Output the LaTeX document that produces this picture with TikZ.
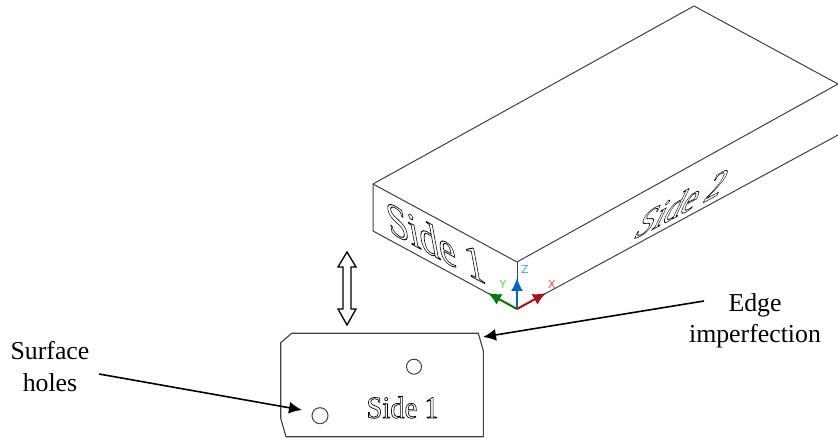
\documentclass[tikz,border=0pt]{standalone}
\usepackage{fontspec}
\setmainfont{Liberation Serif}
\newfontfamily\ucsfont{DejaVu Sans}
\usetikzlibrary{arrows.meta}
\definecolor{edgegray}{gray}{0.25}
\definecolor{ucsgreen}{RGB}{0,125,0}
\definecolor{ucsblue}{RGB}{0,100,200}
\definecolor{ucsred}{RGB}{165,20,20}
\newcommand\outlinetext[2]{\special{pdf:code 1 Tr #1 w}#2\special{pdf:code 0 Tr}}
\tikzset{
  edgeline/.style={draw=edgegray,line width=1bp,line join=round},
  platehole/.style={draw=edgegray,line width=1bp,circle,inner sep=0pt},
  pointer/.style={draw=black,line width=1.6bp,-{Latex[length=13bp,width=12bp]},shorten >=0pt},
  label/.style={font=\fontsize{25.8bp}{26bp}\selectfont,inner sep=0pt,anchor=base,text=black},
  ucsarrow/.style={line width=2bp,-{Latex[length=13bp,width=12bp]}},
  ucslabel/.style={font=\ucsfont\fontsize{11bp}{11bp}\selectfont,inner sep=0pt},
  engraved/.style={inner sep=0pt,anchor=base west,transform shape,font=\fontsize{10bp}{12bp}\selectfont},
}
\begin{document}
\begin{tikzpicture}[x=1bp,y=-1bp]
\useasboundingbox (0,0) rectangle (838,439);
% block
\coordinate (tl) at (373,184);
\coordinate (tf) at (517,262);
\coordinate (tr) at (838,84);
\coordinate (tb) at (694,6);
\coordinate (bl) at (373,231);
\coordinate (bf) at (517,309);
\coordinate (br) at (838,135);
\draw[edgeline] (tl) -- (tb) -- (tr) -- (tf) -- cycle;
\draw[edgeline] (tf) -- (bf);
\draw[edgeline] (tl) -- (bl) -- (bf) -- (br);
% engraved block text
\begin{scope}[shift={(389,232)}]
\node[engraved,cm={3.85,-2.08,-0.9,4.9,(0,0)}] (sideA) at (0,0) {\outlinetext{0.17}{Side 1}};
\end{scope}
\begin{scope}[shift={(631,241)}]
\node[engraved,cm={3.45,1.83,2.0,4.2,(0,0)}] (sideB) at (0,0) {\outlinetext{0.17}{Side 2}};
\end{scope}
\begin{scope}[shift={(366,418)}]
\node[engraved,cm={2.85,0,0,3.1,(0,0)}] (sideC) at (0,0) {\outlinetext{0.22}{Side 1}};
\end{scope}
% UCS icon
\coordinate (ucsY) at (488,293);
\coordinate (ucsZ) at (517,278);
\coordinate (ucsX) at (546,293);
\draw[ucsarrow,ucsgreen] (bf) -- (ucsY);
\draw[ucsarrow,ucsblue] (bf) -- (ucsZ);
\draw[ucsarrow,ucsred] (bf) -- (ucsX);
\node[ucslabel,text={rgb,255:red,70;green,230;blue,70}] (labY) at (503,284) {Y};
\node[ucslabel,text={rgb,255:red,70;green,165;blue,255}] (labZ) at (525,269) {Z};
\node[ucslabel,text={rgb,255:red,255;green,70;blue,70}] (labX) at (552,284) {X};
% double arrow
\draw[draw=black,line width=1.3bp,line join=miter]
  (347,252) -- (356,267) -- (351,267) -- (351,309) -- (356,309) -- (347,325)
  -- (338,309) -- (343,309) -- (343,267) -- (338,267) -- cycle;
% plate
\draw[edgeline,line width=1.1bp] (291.7,333.3) -- (478.3,333.3) -- (483.3,350.7) -- (483.3,436.7)
  -- (286,436.7) -- (280.7,418.3) -- (280.7,342.7) -- cycle;
\node[platehole,minimum size=15bp] (holeA) at (414,366.7) {};
\node[platehole,minimum size=16bp] (holeB) at (320,415.7) {};
% labels
\node[label] (surf) at (50,360) {Surface};
\node[label] (holes) at (50,391) {holes};
\node[label] (edge) at (755,312) {Edge};
\node[label] (imperf) at (755,343) {imperfection};
\coordinate (surfFrom) at (99,374);
\coordinate (surfTo) at (302,410);
\coordinate (edgeFrom) at (704,301);
\coordinate (edgeTo) at (483,337);
\draw[pointer] (surfFrom) -- (surfTo);
\draw[pointer] (edgeFrom) -- (edgeTo);
\end{tikzpicture}
\end{document}
